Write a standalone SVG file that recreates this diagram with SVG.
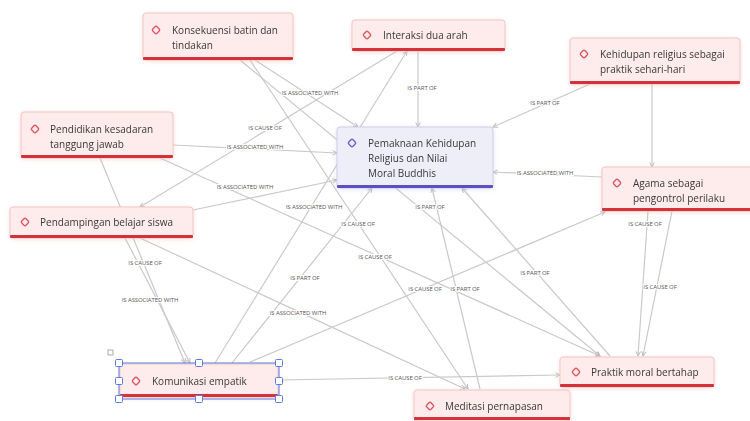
<svg xmlns="http://www.w3.org/2000/svg" width="750" height="421" viewBox="0 0 750 421">
<defs>
<style>
.bg{fill:#ffffff}
.edge{stroke:#c9c9c9;stroke-width:1.2;fill:none;marker-end:url(#arr)}
.lbl{font-family:"Open Sans","Liberation Sans",sans-serif;font-size:6px;fill:#555;text-anchor:middle;stroke:#fff;stroke-width:2px;paint-order:stroke;letter-spacing:-0.1px}
.box{fill:#fdeceb;stroke:#f2c5c5;stroke-width:1}
.boxc{fill:#eeeef9;stroke:#cfcfe8;stroke-width:1}
.ul{fill:#d3303a}
.ulc{fill:#5b50c4}
.txt{font-family:"Open Sans","Liberation Sans",sans-serif;font-size:10px;fill:#383838}
.ic{fill:none;stroke:#e05566;stroke-width:1.4}
.icc{fill:none;stroke:#6e5fd0;stroke-width:1.4}
.h{fill:#fff;stroke:#5b7be0;stroke-width:1}
</style>
<marker id="arr" viewBox="0 0 8 8" refX="7" refY="4" markerWidth="6" markerHeight="6" orient="auto" markerUnits="userSpaceOnUse">
<path d="M1,1 L7,4 L1,7" fill="none" stroke="#b8b8b8" stroke-width="1.2"/>
</marker>
<filter id="glow" x="-10%" y="-20%" width="120%" height="150%">
<feDropShadow dx="0" dy="1" stdDeviation="2.2" flood-color="#f2a0a0" flood-opacity="0.35"/>
</filter>
<filter id="glowc" x="-10%" y="-20%" width="120%" height="150%">
<feDropShadow dx="0" dy="1" stdDeviation="2.2" flood-color="#a8a8e0" flood-opacity="0.35"/>
</filter>
</defs>
<rect class="bg" x="0" y="0" width="750" height="421"/>

<g id="connectors">
<line class="edge" x1="255" y1="60" x2="358" y2="127"/>
<line class="edge" x1="250" y1="60" x2="468" y2="389"/>
<line class="edge" x1="240" y1="60" x2="600" y2="356"/>
<line class="edge" x1="418" y1="51" x2="418" y2="127"/>
<line class="edge" x1="397" y1="51" x2="140" y2="207"/>
<line class="edge" x1="215" y1="363" x2="407" y2="51"/>
<line class="edge" x1="590" y1="84" x2="493" y2="127"/>
<line class="edge" x1="652" y1="84" x2="652" y2="167"/>
<line class="edge" x1="173" y1="145" x2="337" y2="153"/>
<line class="edge" x1="100" y1="158" x2="185" y2="363"/>
<line class="edge" x1="160" y1="158" x2="600" y2="356"/>
<line class="edge" x1="602" y1="177" x2="493" y2="172"/>
<line class="edge" x1="193" y1="210" x2="337" y2="180"/>
<line class="edge" x1="125" y1="238" x2="190" y2="363"/>
<line class="edge" x1="140" y1="238" x2="465" y2="389"/>
<line class="edge" x1="232" y1="363" x2="372" y2="188"/>
<line class="edge" x1="250" y1="362" x2="605" y2="212"/>
<line class="edge" x1="279" y1="380" x2="560" y2="375"/>
<line class="edge" x1="480" y1="389" x2="432" y2="188"/>
<line class="edge" x1="610" y1="356" x2="462" y2="188"/>
<line class="edge" x1="648" y1="211" x2="638" y2="356"/>
<line class="edge" x1="672" y1="211" x2="643" y2="356"/>
<text class="lbl" x="310" y="95">IS ASSOCIATED WITH</text>
<text class="lbl" x="422" y="90">IS PART OF</text>
<text class="lbl" x="545" y="105">IS PART OF</text>
<text class="lbl" x="265" y="130">IS CAUSE OF</text>
<text class="lbl" x="255" y="149">IS ASSOCIATED WITH</text>
<text class="lbl" x="545" y="175">IS ASSOCIATED WITH</text>
<text class="lbl" x="245" y="189">IS ASSOCIATED WITH</text>
<text class="lbl" x="314" y="209">IS ASSOCIATED WITH</text>
<text class="lbl" x="430" y="209">IS PART OF</text>
<text class="lbl" x="358" y="226">IS CAUSE OF</text>
<text class="lbl" x="645" y="226">IS CAUSE OF</text>
<text class="lbl" x="375" y="259">IS CAUSE OF</text>
<text class="lbl" x="145" y="265">IS CAUSE OF</text>
<text class="lbl" x="305" y="280">IS PART OF</text>
<text class="lbl" x="535" y="275">IS PART OF</text>
<text class="lbl" x="425" y="291">IS CAUSE OF</text>
<text class="lbl" x="465" y="291">IS PART OF</text>
<text class="lbl" x="660" y="289">IS CAUSE OF</text>
<text class="lbl" x="150" y="302">IS ASSOCIATED WITH</text>
<text class="lbl" x="298" y="315">IS ASSOCIATED WITH</text>
<text class="lbl" x="405" y="380">IS CAUSE OF</text>
</g>

<g id="n-konsekuensi" filter="url(#glow)">
<rect class="box" x="143" y="13" width="150" height="47" rx="3"/>
<rect class="ul" x="143" y="57" width="150" height="3" rx="1"/>
<rect class="ic" x="153" y="27" width="6" height="6" rx="1.5" transform="rotate(45 156 30)"/>
<text class="txt" x="172" y="33.5">Konsekuensi batin dan</text>
<text class="txt" x="172" y="48.5">tindakan</text>
</g>

<g id="n-interaksi" filter="url(#glow)">
<rect class="box" x="352" y="20" width="153" height="31" rx="3"/>
<rect class="ul" x="352" y="48" width="153" height="3" rx="1"/>
<rect class="ic" x="364" y="32" width="6" height="6" rx="1.5" transform="rotate(45 367 35)"/>
<text class="txt" x="383" y="38.5">Interaksi dua arah</text>
</g>

<g id="n-kehidupan" filter="url(#glow)">
<rect class="box" x="570" y="38" width="170" height="46" rx="3"/>
<rect class="ul" x="570" y="81" width="170" height="3" rx="1"/>
<rect class="ic" x="581" y="51" width="6" height="6" rx="1.5" transform="rotate(45 584 54)"/>
<text class="txt" x="600" y="57.5">Kehidupan religius sebagai</text>
<text class="txt" x="600" y="72.5">praktik sehari-hari</text>
</g>

<g id="n-pendidikan" filter="url(#glow)">
<rect class="box" x="21" y="112" width="152" height="46" rx="3"/>
<rect class="ul" x="21" y="155" width="152" height="3" rx="1"/>
<rect class="ic" x="32" y="126" width="6" height="6" rx="1.5" transform="rotate(45 35 129)"/>
<text class="txt" x="50" y="132.5">Pendidikan kesadaran</text>
<text class="txt" x="50" y="147.5">tanggung jawab</text>
</g>

<g id="n-pemaknaan" filter="url(#glowc)">
<rect class="boxc" x="337" y="127" width="156" height="61" rx="3"/>
<rect class="ulc" x="337" y="185" width="156" height="3" rx="1"/>
<rect class="icc" x="349" y="140" width="6" height="6" rx="1.5" transform="rotate(45 352 143)"/>
<text class="txt" x="368" y="146.5">Pemaknaan Kehidupan</text>
<text class="txt" x="368" y="161.5">Religius dan Nilai</text>
<text class="txt" x="368" y="176.5">Moral Buddhis</text>
</g>

<g id="n-agama" filter="url(#glow)">
<rect class="box" x="602" y="167" width="160" height="44" rx="3"/>
<rect class="ul" x="602" y="208" width="160" height="3" rx="1"/>
<rect class="ic" x="614" y="180" width="6" height="6" rx="1.5" transform="rotate(45 617 183)"/>
<text class="txt" x="633" y="186.5">Agama sebagai</text>
<text class="txt" x="633" y="201.5">pengontrol perilaku</text>
</g>

<g id="n-pendampingan" filter="url(#glow)">
<rect class="box" x="10" y="207" width="183" height="31" rx="3"/>
<rect class="ul" x="10" y="235" width="183" height="3" rx="1"/>
<rect class="ic" x="22" y="219" width="6" height="6" rx="1.5" transform="rotate(45 25 222)"/>
<text class="txt" x="40" y="225.5">Pendampingan belajar siswa</text>
</g>

<g id="n-komunikasi" filter="url(#glow)">
<rect class="box" x="120" y="364" width="158" height="33" rx="3"/>
<rect class="ul" x="120" y="394" width="158" height="3" rx="1"/>
<rect class="ic" x="133" y="378" width="6" height="6" rx="1.5" transform="rotate(45 136 381)"/>
<text class="txt" x="152" y="384.5">Komunikasi empatik</text>
</g>

<g id="selection">
<rect x="119" y="363" width="160" height="36" fill="none" stroke="#5b7be0" stroke-width="1"/>
<rect x="108" y="350" width="5" height="5" fill="#fff" stroke="#999" stroke-width="0.8"/>
<rect class="h" x="115.5" y="359.5" width="7" height="7" rx="1"/>
<rect class="h" x="195.5" y="359.5" width="7" height="7" rx="1"/>
<rect class="h" x="275.5" y="359.5" width="7" height="7" rx="1"/>
<rect class="h" x="115.5" y="377.5" width="7" height="7" rx="1"/>
<rect class="h" x="275.5" y="377.5" width="7" height="7" rx="1"/>
<rect class="h" x="115.5" y="395.5" width="7" height="7" rx="1"/>
<rect class="h" x="195.5" y="395.5" width="7" height="7" rx="1"/>
<rect class="h" x="275.5" y="395.5" width="7" height="7" rx="1"/>
</g>

<g id="n-meditasi" filter="url(#glow)">
<rect class="box" x="414" y="390" width="156" height="31" rx="3"/>
<rect class="ul" x="414" y="417" width="156" height="3" rx="1"/>
<rect class="ic" x="427" y="403" width="6" height="6" rx="1.5" transform="rotate(45 430 406)"/>
<text class="txt" x="445" y="409.5">Meditasi pernapasan</text>
</g>

<g id="n-praktik" filter="url(#glow)">
<rect class="box" x="560" y="357" width="154" height="30" rx="3"/>
<rect class="ul" x="560" y="384" width="154" height="3" rx="1"/>
<rect class="ic" x="573" y="369" width="6" height="6" rx="1.5" transform="rotate(45 576 372)"/>
<text class="txt" x="591" y="375.5">Praktik moral bertahap</text>
</g>
</svg>
